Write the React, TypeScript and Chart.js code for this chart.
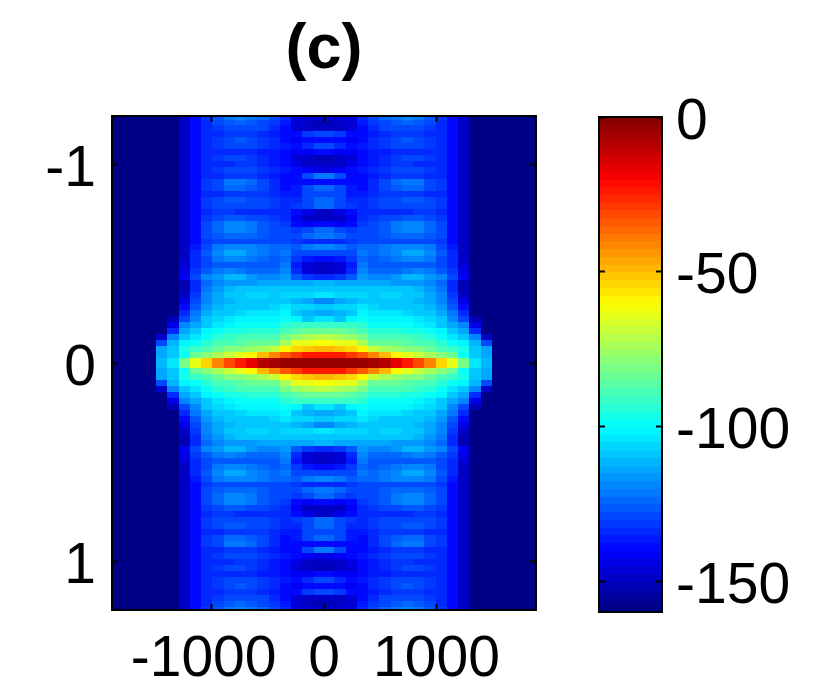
import React, { useEffect, useRef } from "react";
import { Chart, registerables } from "chart.js";

Chart.register(...registerables);

const xTicks = [-1000, 0, 1000];
const yTicks = [-1, 0, 1];
const barTicks = [0, -50, -100, -150];
const floorDb = -160;
const colStep = 100;
const rowStep = 0.03;
const colCount = 19;
const levelCount = 64;
const FONT = "'Liberation Sans', Arial, sans-serif";

// One quadrant of the field in dB: row 0 is the centre line,
// column 0 the centre column. Columns not listed are at the floor.
const quadrant: number[][] = [
  [-3, -3, -3, -4, -6, -10, -17, -24, -32, -42, -54, -64, -82, -104, -112],
  [-25, -24, -28, -34, -42, -50, -60, -65, -70, -74, -78, -85, -100, -108, -115],
  [-50, -52, -54, -60, -70, -74, -76, -78, -80, -84, -88, -92, -96, -108, -115],
  [-62, -64, -64, -75, -85, -84, -84, -86, -88, -90, -94, -98, -102, -112, -130],
  [-72, -75, -76, -82, -90, -90, -90, -90, -92, -94, -98, -104, -108, -120, -148],
  [-85, -84, -86, -88, -95, -95, -95, -96, -96, -98, -102, -108, -114, -135],
  [-92, -92, -92, -94, -100, -100, -100, -100, -102, -104, -108, -114, -120, -145],
  [-105, -108, -102, -98, -102, -102, -102, -102, -104, -106, -110, -118, -128, -152],
  [-115, -112, -108, -102, -105, -104, -104, -106, -108, -110, -114, -122, -134],
  [-108, -106, -106, -104, -106, -108, -108, -108, -110, -112, -116, -126, -140],
  [-118, -115, -112, -108, -110, -108, -110, -110, -112, -114, -118, -128, -145],
  [-105, -106, -106, -106, -108, -106, -106, -108, -110, -114, -120, -132, -150],
  [-108, -108, -108, -108, -110, -108, -108, -110, -112, -116, -122, -134, -152],
  [-112, -114, -114, -114, -114, -114, -116, -116, -116, -118, -124, -134, -152],
  [-135, -132, -126, -116, -118, -118, -116, -112, -112, -116, -120, -128, -142],
  [-148, -146, -134, -120, -124, -124, -124, -122, -120, -122, -126, -132, -144],
  [-150, -146, -136, -122, -126, -126, -126, -126, -126, -126, -128, -134, -146],
  [-138, -136, -132, -124, -126, -124, -122, -120, -120, -122, -128, -134, -148],
  [-128, -130, -128, -122, -124, -122, -118, -114, -114, -118, -126, -134, -148],
  [-120, -122, -126, -124, -124, -122, -120, -118, -118, -122, -128, -136, -150],
  [-135, -134, -132, -128, -130, -130, -130, -128, -128, -128, -132, -138, -150],
  [-122, -124, -128, -128, -128, -126, -124, -124, -124, -126, -130, -138, -150],
  [-125, -128, -132, -130, -128, -126, -122, -120, -120, -124, -130, -138, -150],
  [-140, -142, -138, -132, -130, -126, -122, -118, -118, -124, -130, -138, -150],
  [-150, -148, -142, -134, -132, -130, -128, -126, -126, -128, -132, -140, -150],
  [-148, -145, -140, -134, -134, -134, -134, -134, -132, -132, -134, -140, -150],
  [-125, -128, -132, -134, -132, -130, -128, -128, -128, -130, -132, -140, -150],
  [-125, -130, -134, -134, -132, -130, -128, -126, -126, -130, -132, -140, -150],
  [-128, -130, -136, -136, -134, -132, -132, -132, -132, -134, -134, -140, -150],
  [-125, -128, -136, -138, -134, -130, -126, -124, -124, -130, -132, -140, -150],
  [-138, -138, -140, -138, -134, -130, -124, -122, -122, -128, -132, -140, -150],
  [-122, -128, -138, -138, -136, -134, -132, -132, -132, -134, -134, -140, -150],
  [-145, -142, -140, -136, -134, -132, -130, -130, -130, -132, -134, -140, -150],
  [-150, -148, -144, -138, -136, -134, -132, -132, -134, -134, -134, -140, -150],
  [-152, -150, -146, -138, -136, -134, -132, -130, -130, -132, -134, -140, -150],
  [-140, -142, -142, -138, -136, -136, -134, -134, -134, -134, -134, -140, -150],
  [-130, -134, -140, -136, -134, -132, -130, -130, -130, -132, -134, -140, -150],
  [-138, -138, -142, -138, -134, -132, -128, -126, -128, -132, -134, -140, -150],
  [-128, -132, -140, -138, -136, -134, -132, -132, -132, -134, -134, -140, -150],
  [-150, -148, -146, -138, -134, -130, -128, -128, -130, -132, -134, -140, -150],
  [-152, -150, -146, -136, -132, -128, -126, -124, -126, -130, -134, -140, -150],
  [-146, -146, -144, -134, -128, -124, -122, -120, -122, -126, -132, -140, -150],
];

function jet(i: number): string {
  const t = (i + 0.5) / levelCount;
  const c = (k: number) =>
    Math.round(255 * Math.max(0, Math.min(1, 1.5 - Math.abs(4 * t - k))));
  return `rgb(${c(3)},${c(2)},${c(1)})`;
}

function levelOf(v: number): number {
  const i = Math.floor(((v - floorDb) / -floorDb) * levelCount);
  return Math.max(0, Math.min(levelCount - 1, i));
}

function stamps(w: number, h: number): HTMLCanvasElement[] {
  const out: HTMLCanvasElement[] = [];
  for (let i = 0; i < levelCount; i++) {
    const c = document.createElement("canvas");
    c.width = w;
    c.height = h;
    const g = c.getContext("2d")!;
    g.fillStyle = jet(i);
    g.fillRect(0, 0, w, h);
    out.push(c);
  }
  return out;
}

function fieldPoints() {
  const pts: { x: number; y: number; v: number }[] = [];
  quadrant.forEach((row, r) => {
    for (let c = 0; c < colCount; c++) {
      const v = c < row.length ? row[c] : floorDb;
      const x = colStep * (c + 0.5);
      const y = rowStep * (r + 0.5);
      pts.push({ x, y, v }, { x: -x, y, v }, { x, y: -y, v }, { x: -x, y: -y, v });
    }
  });
  return pts;
}

function frameAxis(extra: any) {
  return {
    border: { display: true, color: "#000", width: 2, z: 2 },
    grid: {
      z: 2,
      drawOnChartArea: false,
      drawTicks: true,
      tickLength: -6,
      tickWidth: 2,
      tickColor: "#000",
    },
    ...extra,
  };
}

function fixedTicks(values: number[]) {
  return (axis: any) => {
    axis.ticks = values.map((value) => ({ value }));
  };
}

function sized(key: "width" | "height", size: number) {
  return (axis: any) => {
    axis[key] = size;
  };
}

const tickFont = { family: FONT, size: 57 };
const silent = { display: false };
const plain = (v: any) => String(v);
// MATLAB centres the digits and lets the minus sign hang left, hence the trailing space.
const hangingMinus = (v: any) => (Number(v) < 0 ? `${v} ` : String(v));

export default function App() {
  const fieldRef = useRef<HTMLCanvasElement>(null);
  const barRef = useRef<HTMLCanvasElement>(null);

  useEffect(() => {
    const fieldStamps = stamps(13, 7);
    const barStamps = stamps(66, 9);

    const field = new Chart(fieldRef.current!, {
      type: "scatter",
      data: {
        datasets: [
          {
            data: fieldPoints() as any,
            pointStyle: (ctx: any) => fieldStamps[levelOf(ctx.raw.v)],
            pointRadius: 4,
          } as any,
        ],
      },
      options: {
        responsive: false,
        animation: false,
        layout: { autoPadding: false, padding: { top: 0, right: 296, bottom: 0, left: 0 } },
        plugins: {
          legend: silent,
          tooltip: { enabled: false },
          title: {
            display: true,
            fullSize: false,
            text: "(c)",
            color: "#000",
            font: { family: FONT, size: 63, weight: "bold", lineHeight: 1 },
            padding: { top: 19, bottom: 34 },
          },
        },
        scales: {
          x: frameAxis({
            type: "linear",
            position: "bottom",
            min: -1885,
            max: 1885,
            afterBuildTicks: fixedTicks(xTicks),
            afterFit: sized("height", 76),
            ticks: { color: "#000", font: tickFont, padding: 22, maxRotation: 0, autoSkip: false, callback: hangingMinus },
          }),
          xTop: frameAxis({
            type: "linear",
            position: "top",
            min: -1885,
            max: 1885,
            afterBuildTicks: fixedTicks(xTicks),
            afterFit: sized("height", 0),
            ticks: { callback: () => "", font: { size: 1 } },
          }),
          y: frameAxis({
            type: "linear",
            position: "left",
            reverse: true,
            min: -1.245,
            max: 1.245,
            afterBuildTicks: fixedTicks(yTicks),
            afterFit: sized("width", 112),
            ticks: {
              color: "#000",
              font: tickFont,
              padding: 22,
              labelOffset: 6,
              autoSkip: false,
              callback: plain,
            },
          }),
          yRight: frameAxis({
            type: "linear",
            position: "right",
            reverse: true,
            min: -1.245,
            max: 1.245,
            afterBuildTicks: fixedTicks(yTicks),
            afterFit: sized("width", 0),
            ticks: { callback: () => "", font: { size: 1 } },
          }),
        },
      } as any,
    });

    const barData = Array.from({ length: levelCount }, (_, i) => ({
      x: 0.5,
      y: floorDb + (-floorDb / levelCount) * (i + 0.5),
      v: floorDb + (-floorDb / levelCount) * (i + 0.5),
    }));

    const bar = new Chart(barRef.current!, {
      type: "scatter",
      data: {
        datasets: [
          {
            data: barData as any,
            pointStyle: (ctx: any) => barStamps[levelOf(ctx.raw.v)],
            pointRadius: 4,
          } as any,
        ],
      },
      options: {
        responsive: false,
        animation: false,
        layout: { autoPadding: false, padding: { top: 117, right: 0, bottom: 0, left: 0 } },
        plugins: { legend: silent, title: silent, tooltip: { enabled: false } },
        scales: {
          x: frameAxis({
            type: "linear",
            position: "bottom",
            min: 0,
            max: 1,
            afterBuildTicks: fixedTicks([]),
            afterFit: sized("height", 74),
            ticks: { display: false },
          }),
          xTop: frameAxis({
            type: "linear",
            position: "top",
            min: 0,
            max: 1,
            afterBuildTicks: fixedTicks([]),
            afterFit: sized("height", 0),
            ticks: { display: false },
          }),
          yLeft: frameAxis({
            type: "linear",
            position: "left",
            min: floorDb,
            max: 0,
            afterBuildTicks: fixedTicks(barTicks),
            afterFit: sized("width", 599),
            ticks: { callback: () => "", font: { size: 1 } },
          }),
          y: frameAxis({
            type: "linear",
            position: "right",
            min: floorDb,
            max: 0,
            afterBuildTicks: fixedTicks(barTicks),
            afterFit: sized("width", 170),
            ticks: {
              color: "#000",
              font: tickFont,
              padding: 20,
              labelOffset: 6,
              autoSkip: false,
              callback: plain,
            },
          }),
        },
      } as any,
    });

    return () => {
      field.destroy();
      bar.destroy();
    };
  }, []);

  const layer: React.CSSProperties = { position: "absolute", left: 0, top: 0 };
  return (
    <div style={{ position: "absolute", left: 0, top: 0, width: 832, height: 686, background: "#fff" }}>
      <canvas ref={fieldRef} width={832} height={686} style={layer} />
      <canvas ref={barRef} width={832} height={686} style={layer} />
    </div>
  );
}
